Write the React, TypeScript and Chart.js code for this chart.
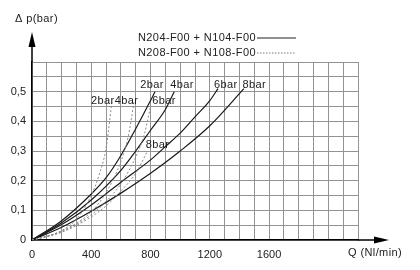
import React, { useEffect, useRef } from "react";
import { Chart, registerables } from "chart.js";

Chart.register(...registerables);

// Solid curves: N204-F00 + N104-F00
const solid2Q = [0, 200, 400, 500, 600, 700, 800, 830];
const solid2P = [0, 0.065, 0.155, 0.21, 0.285, 0.375, 0.47, 0.5];
const solid4Q = [0, 200, 400, 600, 700, 800, 900, 960];
const solid4P = [0, 0.058, 0.135, 0.235, 0.3, 0.37, 0.44, 0.5];
const solid6Q = [0, 200, 400, 600, 800, 900, 1000, 1100, 1200, 1255];
const solid6P = [0, 0.052, 0.118, 0.195, 0.27, 0.315, 0.36, 0.415, 0.47, 0.51];
const solid8Q = [0, 200, 400, 600, 800, 1000, 1200, 1430];
const solid8P = [0, 0.043, 0.097, 0.158, 0.225, 0.3, 0.385, 0.51];

// Dotted curves: N208-F00 + N108-F00
const dot2Q = [0, 100, 200, 300, 400, 450, 500, 540];
const dot2P = [0, 0.012, 0.032, 0.07, 0.15, 0.215, 0.31, 0.47];
const dot4Q = [0, 200, 300, 400, 500, 600, 650, 690];
const dot4P = [0, 0.03, 0.057, 0.095, 0.16, 0.265, 0.35, 0.47];
const dot6Q = [0, 200, 400, 500, 600, 700, 760, 800];
const dot6P = [0, 0.028, 0.085, 0.13, 0.19, 0.28, 0.36, 0.45];
const dot8Q = [0, 200, 400, 500, 600, 700, 780];
const dot8P = [0, 0.026, 0.078, 0.115, 0.165, 0.225, 0.3];

const xTickLabels = [0, 400, 800, 1200, 1600];
const yTickLabels = [0, 0.1, 0.2, 0.3, 0.4, 0.5];

const legendSolid = "N204-F00 + N104-F00";
const legendDotted = "N208-F00 + N108-F00";
const yTitle = "\u0394 p(bar)";
const xTitle = "Q (Nl/min)";

const solidLabels = ["2bar", "4bar", "6bar", "8bar"];
const dottedLabels = ["2bar4bar", "6bar", "8bar"];

const FONT = "'Liberation Sans', Arial, sans-serif";

function pts(q: number[], p: number[]) {
  return q.map((v, i) => ({ x: v, y: p[i] }));
}

export default function App() {
  const ref = useRef<HTMLCanvasElement | null>(null);

  useEffect(() => {
    const canvas = ref.current;
    if (!canvas) return;

    const solidStyle = {
      borderColor: "#1a1a1a",
      borderWidth: 1.2,
      pointRadius: 0,
      showLine: true,
      cubicInterpolationMode: "monotone" as const,
      fill: false,
    };
    const dotStyle = {
      borderColor: "#8a8a8a",
      borderWidth: 1,
      borderDash: [2, 2],
      pointRadius: 0,
      showLine: true,
      cubicInterpolationMode: "monotone" as const,
      fill: false,
    };

    const overlay = {
      id: "overlay",
      afterDraw(chart: any) {
        const ctx = chart.ctx as CanvasRenderingContext2D;
        const ca = chart.chartArea;
        const xs = chart.scales.x;
        const ys = chart.scales.y;
        ctx.save();
        ctx.strokeStyle = "#000";
        ctx.fillStyle = "#000";
        ctx.lineWidth = 1.5;
        // y axis extension + arrow
        ctx.beginPath();
        ctx.moveTo(ca.left, ca.top);
        ctx.lineTo(ca.left, 45);
        ctx.stroke();
        ctx.beginPath();
        ctx.moveTo(ca.left, 32);
        ctx.lineTo(ca.left - 3.5, 47);
        ctx.lineTo(ca.left + 3.5, 47);
        ctx.closePath();
        ctx.fill();
        // x axis extension + arrow
        ctx.beginPath();
        ctx.moveTo(ca.right, ca.bottom);
        ctx.lineTo(376, ca.bottom);
        ctx.stroke();
        ctx.beginPath();
        ctx.moveTo(389, ca.bottom);
        ctx.lineTo(374, ca.bottom - 3.5);
        ctx.lineTo(374, ca.bottom + 3.5);
        ctx.closePath();
        ctx.fill();

        ctx.fillStyle = "#222";
        ctx.font = `11px ${FONT}`;
        (ctx as any).letterSpacing = "0.4px";
        ctx.textBaseline = "middle";
        ctx.textAlign = "left";
        ctx.fillText(yTitle, 15, 19);
        ctx.fillText(xTitle, 348, 253);
        // legend
        ctx.fillText(legendSolid, 138, 38);
        ctx.fillText(legendDotted, 138, 53);
        ctx.strokeStyle = "#222";
        ctx.lineWidth = 1.2;
        ctx.beginPath();
        ctx.moveTo(257, 38);
        ctx.lineTo(296, 38);
        ctx.stroke();
        ctx.strokeStyle = "#777";
        ctx.lineWidth = 1;
        ctx.setLineDash([1.5, 1.5]);
        ctx.beginPath();
        ctx.moveTo(257, 53);
        ctx.lineTo(296, 53);
        ctx.stroke();
        ctx.setLineDash([]);

        // curve labels (data coordinates)
        ctx.textAlign = "center";
        const solidPos = [
          [810, 0.523],
          [1012, 0.523],
          [1308, 0.523],
          [1500, 0.523],
        ];
        solidLabels.forEach((t, i) => {
          ctx.fillText(t, xs.getPixelForValue(solidPos[i][0]), ys.getPixelForValue(solidPos[i][1]));
        });
        const dotPos = [
          [558, 0.467],
          [891, 0.467],
          [847, 0.321],
        ];
        dottedLabels.forEach((t, i) => {
          ctx.fillText(t, xs.getPixelForValue(dotPos[i][0]), ys.getPixelForValue(dotPos[i][1]));
        });
        ctx.restore();
      },
    };

    const chart = new Chart(canvas, {
      type: "scatter",
      data: {
        datasets: [
          { data: pts(dot2Q, dot2P), ...dotStyle },
          { data: pts(dot4Q, dot4P), ...dotStyle },
          { data: pts(dot6Q, dot6P), ...dotStyle },
          { data: pts(dot8Q, dot8P), ...dotStyle },
          { data: pts(solid2Q, solid2P), ...solidStyle },
          { data: pts(solid4Q, solid4P), ...solidStyle },
          { data: pts(solid6Q, solid6P), ...solidStyle },
          { data: pts(solid8Q, solid8P), ...solidStyle },
        ] as any,
      },
      options: {
        animation: false,
        responsive: false,
        maintainAspectRatio: false,
        layout: { padding: { left: 0, top: 62, right: 62, bottom: 0 } },
        plugins: {
          legend: { display: false },
          tooltip: { enabled: false },
        },
        scales: {
          x: {
            type: "linear",
            min: 0,
            max: 2200,
            afterFit(s: any) {
              s.height = 30;
            },
            grid: { color: "#939393", lineWidth: 1, drawTicks: false },
            border: { display: true, color: "#000", width: 1.5 },
            ticks: {
              stepSize: 100,
              autoSkip: false,
              maxRotation: 0,
              padding: 8,
              color: "#222",
              font: { family: FONT, size: 11 },
              callback: (v: any) => (xTickLabels.includes(Math.round(v)) && Math.abs(v - Math.round(v)) < 1e-6 ? String(Math.round(v)) : ""),
            },
          },
          y: {
            type: "linear",
            min: 0,
            max: 0.6,
            afterFit(s: any) {
              s.width = 32;
            },
            grid: { color: "#939393", lineWidth: 1, drawTicks: false },
            border: { display: true, color: "#000", width: 1.5 },
            ticks: {
              stepSize: 0.05,
              autoSkip: false,
              padding: 6,
              color: "#222",
              font: { family: FONT, size: 11 },
              callback: (v: any) => {
                const hit = yTickLabels.find((t) => Math.abs(t - v) < 1e-6);
                if (hit === undefined) return "";
                return hit === 0 ? "0" : hit.toFixed(1).replace(".", ",");
              },
            },
          },
        },
      },
      plugins: [overlay],
    });

    return () => chart.destroy();
  }, []);

  return (
    <div style={{ position: "fixed", left: 0, top: 0, width: 420, height: 270, background: "#fff" }}>
      <canvas ref={ref} width={420} height={270} style={{ width: 420, height: 270, display: "block" }} />
    </div>
  );
}
